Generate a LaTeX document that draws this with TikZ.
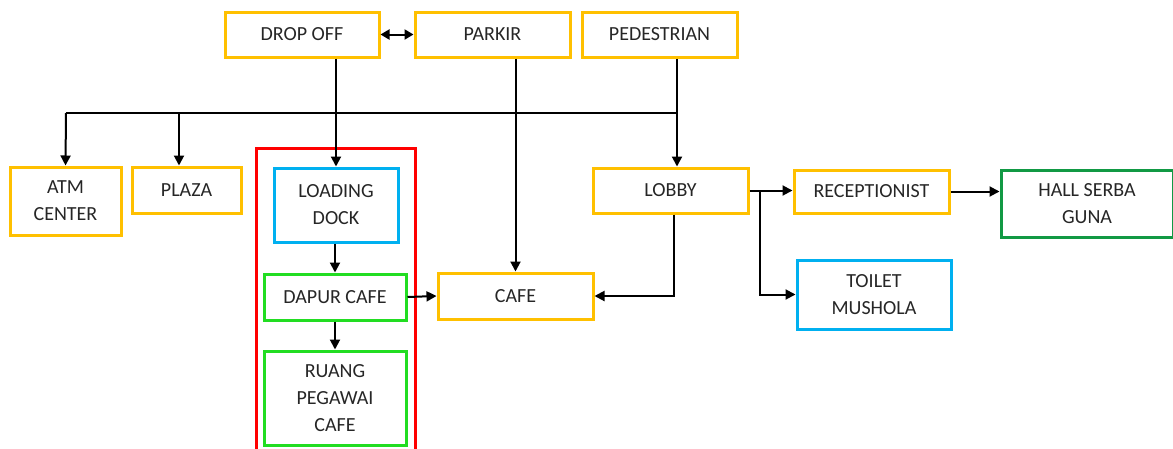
\documentclass[tikz,border=0pt]{standalone}
\usepackage{fontspec}
\setmainfont{Carlito}
\usetikzlibrary{arrows.meta,calc}
\definecolor{cyel}{HTML}{FFC000}
\definecolor{cblu}{HTML}{00B0F0}
\definecolor{cgrn}{HTML}{22DD22}
\definecolor{cdgr}{HTML}{119944}
\definecolor{cred}{HTML}{FF0000}
\definecolor{ctxt}{HTML}{262626}
\tikzset{
  box/.style={draw=#1, line width=3pt, rectangle, inner sep=0pt, align=center,
    text=ctxt, font=\fontsize{20}{27}\selectfont},
  arr/.style={line width=2pt, -{Triangle[length=10pt,width=10pt]}},
  barr/.style={line width=2pt, {Triangle[length=9pt,width=10pt]}-{Triangle[length=9pt,width=10pt]}},
  ln/.style={line width=2pt},
}
\begin{document}
\begin{tikzpicture}[x=1pt,y=-1pt]
\useasboundingbox (0,0) rectangle (1173,448);
% group frame
\draw[cred, line width=3pt] (256,452) -- (256,148) -- (415,148) -- (415,452);
% nodes
\node[box=cyel, minimum width=154, minimum height=45] (drop) at (302,34.5) {DROP OFF};
\node[box=cyel, minimum width=155, minimum height=45] (park) at (492.5,34.5) {PARKIR};
\node[box=cyel, minimum width=155, minimum height=45] (ped) at (659.5,34.5) {PEDESTRIAN};
\node[box=cyel, minimum width=111, minimum height=68] (atm) at (65.5,201) {ATM\\CENTER};
\node[box=cyel, minimum width=109, minimum height=46] (plaza) at (186.5,190) {PLAZA};
\node[box=cblu, minimum width=124, minimum height=74] (load) at (336,205) {LOADING\\DOCK};
\node[box=cgrn, minimum width=142, minimum height=46] (dapur) at (335,297) {DAPUR CAFE};
\node[box=cgrn, minimum width=142, minimum height=94] (ruang) at (335,398) {RUANG\\PEGAWAI\\CAFE};
\node[box=cyel, minimum width=155, minimum height=46] (cafe) at (515.5,296) {CAFE};
\node[box=cyel, minimum width=155, minimum height=45] (lobby) at (670.5,190.5) {LOBBY};
\node[box=cyel, minimum width=155, minimum height=43] (recep) at (871.5,191.5) {RECEPTIONIST};
\node[box=cdgr, minimum width=172, minimum height=67] (hall) at (1087,203.5) {HALL SERBA\\GUNA};
\node[box=cblu, minimum width=154, minimum height=69] (toilet) at (874,294.5) {TOILET\\MUSHOLA};
% coordinates
\coordinate (busL) at (66,113);
\coordinate (busR) at (677,113);
\coordinate (pz) at (179,113);
\coordinate (br) at (760,190.5);
% connectors
\draw[barr] (drop.east) -- (park.west);
\draw[ln] (busL) -- (busR);
\draw[arr] (busL) -- (atm.north);
\draw[arr] (pz) -- (pz |- plaza.north);
\draw[arr] (load.north |- drop.south) -- (load.north);
\draw[arr] (ped.south -| busR) -- (lobby.north -| busR);
\draw[arr] (park.south -| cafe.north) -- (cafe.north);
\draw[arr] (load.south -| dapur.north) -- (dapur.north);
\draw[arr] (dapur.south) -- (ruang.north);
\draw[arr] (dapur.east) -- (cafe.west);
\draw[arr] ($(lobby.south)+(3.5,0)$) |- (cafe.east);
\draw[arr] (lobby.east) -- (lobby.east -| recep.west);
\draw[arr] (br) |- (toilet.west);
\draw[arr] (recep.east) -- (recep.east -| hall.west);
\end{tikzpicture}
\end{document}
